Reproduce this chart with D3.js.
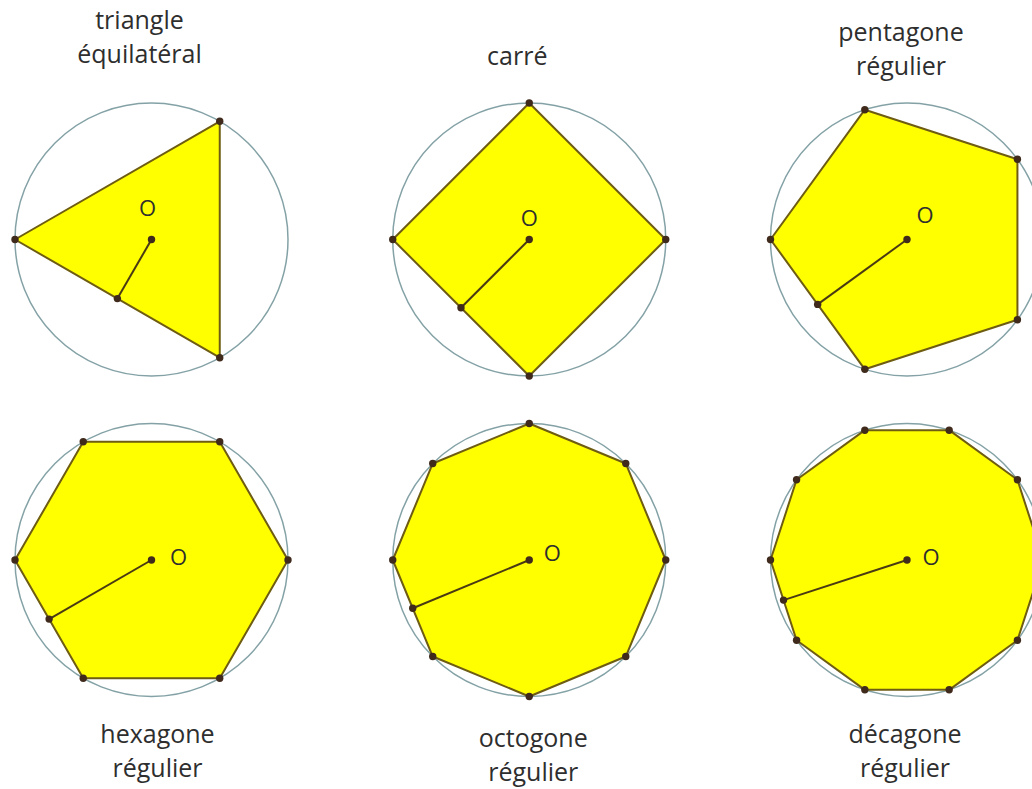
<!DOCTYPE html>
<html>
<head>
<meta charset="utf-8">
<script src="https://cdn.jsdelivr.net/npm/d3@7"></script>
<style>
  body { margin: 0; background: #fff; }
  text { font-family: "Open Sans", sans-serif; fill: #2e2e2e; }
</style>
</head>
<body>
<div id="figures"></div>
<script>
// the six regular polygons, in reading order
let sideCounts = [3, 4, 5, 6, 8, 10]
let labelLines = [
    ["triangle", "équilatéral"],
    ["carré"],
    ["pentagone", "régulier"],
    ["hexagone", "régulier"],
    ["octogone", "régulier"],
    ["décagone", "régulier"]
]
let centerName = "O"

// layout only: label shift from the column centre, and where each line sits
let labelDx = [-12, -12, -6, 6, 4, -2]
let labelBaselines = [[29, 63], [65], [41, 75], [743, 777], [747, 781], [743, 777]]
let oOffset = [[-4, -31], [0, -21], [18, -24], [27, -3], [23, -7], [24, -3]]

let width = 1032
let height = 789

let svg = d3.select("#figures")
    .append("svg")
    .attr("width", width)
    .attr("height", height)

let x = d3.scalePoint().domain([0, 1, 2]).range([151.5, 907])
let y = d3.scalePoint().domain([0, 1]).range([239.5, 560])
let r = d3.scaleLinear().domain([0, 1]).range([0, 136.5])

let line = d3.line().curve(d3.curveLinearClosed)

sideCounts.forEach((n, i) => {
    let cx = x(i % 3)
    let cy = y(Math.floor(i / 3))
    let g = svg.append("g")

    // circumscribed circle
    g.append("circle")
        .attr("cx", cx).attr("cy", cy).attr("r", r(1))
        .attr("fill", "none")
        .attr("stroke", "#84a2a6")
        .attr("stroke-width", 1.5)

    // vertices, first one on the left
    let verts = d3.range(n).map(k => {
        let a = Math.PI + k * 2 * Math.PI / n
        return [cx + r(1) * Math.cos(a), cy - r(1) * Math.sin(a)]
    })

    g.append("path")
        .attr("d", line(verts))
        .attr("fill", "#ffff00")
        .attr("stroke", "#6e5c12")
        .attr("stroke-width", 2)
        .attr("stroke-linejoin", "round")

    // apothem to the lower-left side
    let a = Math.PI + Math.PI / n
    let d = Math.cos(Math.PI / n)
    let foot = [cx + r(d) * Math.cos(a), cy - r(d) * Math.sin(a)]

    g.append("line")
        .attr("x1", cx).attr("y1", cy)
        .attr("x2", foot[0]).attr("y2", foot[1])
        .attr("stroke", "#4a3a14")
        .attr("stroke-width", 2)

    g.selectAll(".pt")
        .data(verts.concat([foot, [cx, cy]]))
        .enter()
        .append("circle")
        .attr("class", "pt")
        .attr("cx", p => p[0]).attr("cy", p => p[1])
        .attr("r", 3.7)
        .attr("fill", "#3f2a1c")

    g.append("text")
        .attr("x", cx + oOffset[i][0])
        .attr("y", cy + oOffset[i][1])
        .attr("dy", "0.36em")
        .attr("text-anchor", "middle")
        .style("font-size", "22px")
        .text(centerName)

    labelLines[i].forEach((t, j) => {
        g.append("text")
            .attr("x", cx + labelDx[i])
            .attr("y", labelBaselines[i][j])
            .attr("text-anchor", "middle")
            .style("font-size", "25px")
            .text(t)
    })
})
</script>
</body>
</html>
